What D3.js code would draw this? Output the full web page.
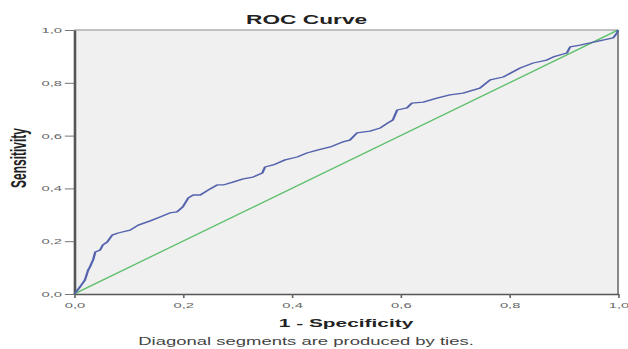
<!DOCTYPE html>
<html>
<head>
<meta charset="utf-8">
<title>ROC Curve</title>
<script src="https://cdn.jsdelivr.net/npm/d3@7/dist/d3.min.js"></script>
<style>
	html, body { margin: 0; padding: 0; background: #fff; }
	svg { display: block; }
	text { font-family: "Liberation Sans", Arial, sans-serif; }
</style>
</head>
<body>
<div id="chart"></div>
<script>

// values (1 - specificity, sensitivity)
var fpr = [0, 0.002, 0.011, 0.020, 0.026, 0.029, 0.035, 0.039, 0.048, 0.053,
	0.061, 0.070, 0.081, 0.103, 0.118, 0.140, 0.158, 0.176, 0.189, 0.200,
	0.210, 0.219, 0.232, 0.250, 0.263, 0.274, 0.292, 0.311, 0.329, 0.346,
	0.351, 0.366, 0.388, 0.410, 0.428, 0.447, 0.471, 0.489, 0.494, 0.507,
	0.520, 0.544, 0.563, 0.577, 0.586, 0.594, 0.612, 0.621, 0.642, 0.667,
	0.691, 0.715, 0.746, 0.765, 0.789, 0.820, 0.844, 0.869, 0.881, 0.906,
	0.912, 0.930, 0.949, 0.972, 0.991, 0.998, 1.0];

var tpr = [0, 0.004, 0.027, 0.053, 0.091, 0.102, 0.129, 0.159, 0.167, 0.186,
	0.197, 0.223, 0.231, 0.242, 0.261, 0.277, 0.292, 0.307, 0.311, 0.330,
	0.364, 0.375, 0.375, 0.398, 0.413, 0.413, 0.424, 0.436, 0.443, 0.458,
	0.481, 0.489, 0.508, 0.519, 0.534, 0.545, 0.557, 0.572, 0.576, 0.583,
	0.610, 0.617, 0.629, 0.648, 0.659, 0.697, 0.705, 0.723, 0.727, 0.742,
	0.754, 0.761, 0.780, 0.811, 0.822, 0.856, 0.875, 0.886, 0.898, 0.913,
	0.936, 0.943, 0.951, 0.962, 0.970, 0.989, 1.0];

var refLine = [0, 1];
var tickValues = [0, 0.2, 0.4, 0.6, 0.8, 1.0];

var titleText = "ROC Curve";
var xTitle = "1 - Specificity";
var yTitle = "Sensitivity";
var footText = "Diagonal segments are produced by ties.";


var CHART = CHART || {};

CHART.roc = {
	init: function () {

		// the original picture is stretched sideways, so draw in a narrow box and stretch it
		var W = 340, H = 349;
		var margin = {top: 30, right: 5.4, bottom: 55, left: 40.1};
		var w = W - margin.left - margin.right;
		var h = H - margin.top - margin.bottom;

		var svg = d3.select('#chart')
			.append('svg')
			.attr('width', 628)
			.attr('height', 349)
			.attr('viewBox', '0 0 ' + W + ' ' + H)
			.attr('preserveAspectRatio', 'none');

		var g = svg.append('g')
			.attr('transform', 'translate(' + margin.left + ',' + margin.top + ')');

		var x = d3.scaleLinear().domain([0, 1]).range([0, w]);
		var y = d3.scaleLinear().domain([0, 1]).range([h, 0]);

		var fmt = function (d) { return d3.format('.1f')(d).replace('.', ','); };

		//plot background + frame
		g.append('rect')
			.attr('width', w)
			.attr('height', h)
			.attr('fill', '#f0f0f0');

		g.append('line')
			.attr('x1', 0).attr('x2', w).attr('y1', 0).attr('y2', 0)
			.attr('stroke', '#8a8a8a').attr('stroke-width', 1.1);

		g.append('line')
			.attr('x1', w).attr('x2', w).attr('y1', 0).attr('y2', h)
			.attr('stroke', '#8a8a8a').attr('stroke-width', 1.1);

		//axes
		var xAxis = g.append('g')
			.attr('transform', 'translate(0,' + h + ')')
			.call(d3.axisBottom(x).tickValues(tickValues).tickFormat(fmt)
				.tickSize(4).tickSizeOuter(0).tickPadding(4));

		var yAxis = g.append('g')
			.call(d3.axisLeft(y).tickValues(tickValues).tickFormat(fmt)
				.tickSize(5).tickSizeOuter(0).tickPadding(1.5));

		[xAxis, yAxis].forEach(function (ax) {
			ax.select('.domain').attr('stroke', '#555').attr('stroke-width', 1.4);
			ax.selectAll('.tick line').attr('stroke', '#666').attr('stroke-width', 0.9);
			ax.selectAll('.tick text')
				.attr('fill', '#666')
				.style('font-size', '8px')
				.style('font-family', '"Liberation Sans", Arial, sans-serif');
		});

		//reference diagonal
		var pts = fpr.map(function (d, i) { return [d, tpr[i]]; });

		g.append('line')
			.attr('x1', x(refLine[0])).attr('y1', y(refLine[0]))
			.attr('x2', x(refLine[1])).attr('y2', y(refLine[1]))
			.attr('stroke', '#5fbf6c')
			.attr('stroke-width', 1.1);

		//roc curve
		var line = d3.line()
			.x(function (d) { return x(d[0]); })
			.y(function (d) { return y(d[1]); });

		g.append('path')
			.datum(pts)
			.attr('d', line)
			.attr('fill', 'none')
			.attr('stroke', '#5664ad')
			.attr('stroke-width', 1.3)
			.attr('stroke-linejoin', 'round');

		//texts
		svg.append('text')
			.attr('x', 166)
			.attr('y', 24.3)
			.attr('text-anchor', 'middle')
			.style('font-size', '12.3px')
			.style('font-weight', 'bold')
			.attr('fill', '#222')
			.text(titleText);

		svg.append('text')
			.attr('x', margin.left + w / 2)
			.attr('y', 327)
			.attr('text-anchor', 'middle')
			.style('font-size', '11.3px')
			.style('font-weight', 'bold')
			.attr('fill', '#222')
			.text(xTitle);

		svg.append('text')
			.attr('transform', 'translate(14,158) rotate(-90)')
			.attr('text-anchor', 'middle')
			.style('font-size', '12px')
			.style('font-weight', 'bold')
			.attr('fill', '#222')
			.text(yTitle);

		svg.append('text')
			.attr('x', 165.7)
			.attr('y', 345)
			.attr('text-anchor', 'middle')
			.style('font-size', '10px')
			.attr('fill', '#444')
			.text(footText);

	}
};

CHART.roc.init();

</script>
</body>
</html>
